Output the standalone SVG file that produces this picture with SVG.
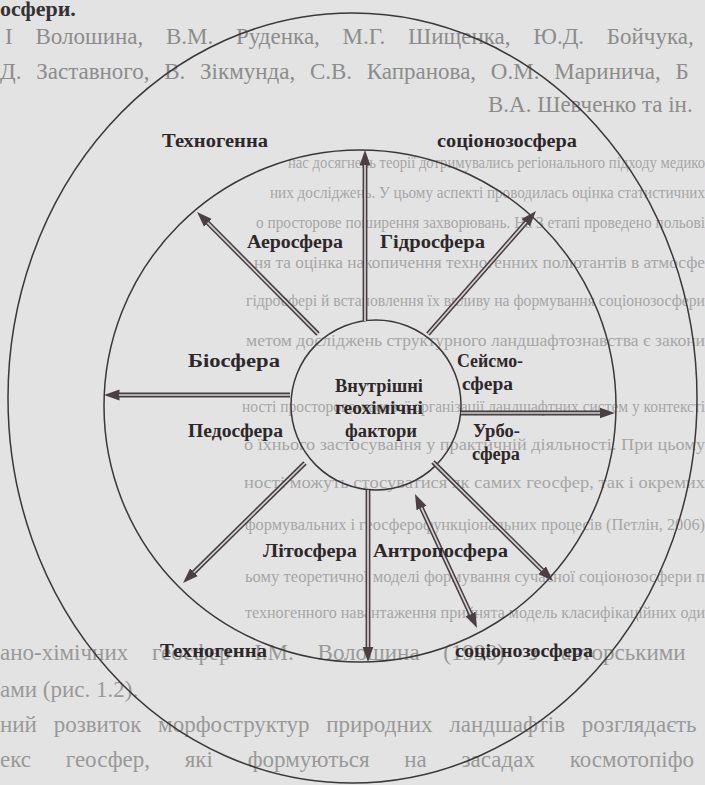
<svg xmlns="http://www.w3.org/2000/svg" width="705" height="785" viewBox="0 0 705 785">
<style>
.bgA{font-family:"Liberation Serif","DejaVu Serif",serif;font-size:23px;fill:#8c8c8c}
.bgB{font-family:"Liberation Serif","DejaVu Serif",serif;font-size:16px;fill:#a6a6a6}
.bgC{font-family:"Liberation Serif","DejaVu Serif",serif;font-size:23px;fill:#999999}
.ring{fill:none;stroke:#3b3637;stroke-width:1.5}
.sh{stroke:#463e41;stroke-width:4.8;fill:none}
.gap{stroke:#d6d2d3;stroke-width:1.7;fill:none}
.lbl{font-family:"Liberation Serif","Times New Roman",serif;font-weight:bold;font-size:18px;fill:#2d2829}
</style>
<defs>
<marker id="ah" markerUnits="userSpaceOnUse" markerWidth="16" markerHeight="12" refX="0.5" refY="5.5" orient="auto-start-reverse" viewBox="0 0 16 11">
<path d="M0,0 L15.5,5.5 L0,11 z" fill="#4a4044"/>
</marker>
</defs>
<rect width="705" height="785" fill="#e3e3e3"/>
<g id="page-text">
<text x="0" y="16" style="font-family:'Liberation Serif',serif;font-size:22px;font-weight:bold;fill:#333">осфери.</text>
<text class="bgA" x="5" y="44" word-spacing="17">І Волошина, В.М. Руденка, М.Г. Шищенка, Ю.Д. Бойчука,</text>
<text class="bgA" x="0" y="79" word-spacing="9">Д. Заставного, В. Зікмунда, С.В. Капранова, О.М. Маринича, Б</text>
<text class="bgA" x="488" y="112">В.А. Шевченко та ін.</text>
<text class="bgB" x="288" y="168" textLength="417" lengthAdjust="spacingAndGlyphs">нас досягнень теорії дотримувались регіонального підходу медико</text>
<text class="bgB" x="270" y="198" textLength="435" lengthAdjust="spacingAndGlyphs">них досліджень. У цьому аспекті проводилась оцінка статистичних</text>
<text class="bgB" x="256" y="228" textLength="449" lengthAdjust="spacingAndGlyphs">о просторове поширення захворювань. На 3 етапі проведено польові</text>
<text class="bgB" x="254" y="268" textLength="451" lengthAdjust="spacingAndGlyphs">ня та оцінка накопичення техногенних полютантів в атмосфе</text>
<text class="bgB" x="246" y="306" textLength="459" lengthAdjust="spacingAndGlyphs">гідросфері й встановлення їх впливу на формування соціонозосфери</text>
<text class="bgB" x="246" y="346" textLength="459" lengthAdjust="spacingAndGlyphs">метом досліджень структурного ландшафтознавства є закони</text>
<text class="bgB" x="242" y="412" textLength="463" lengthAdjust="spacingAndGlyphs">ності просторово-часової організації ландшафтних систем у контексті</text>
<text class="bgB" x="244" y="450" textLength="461" lengthAdjust="spacingAndGlyphs">о їхнього застосування у практичній діяльності. При цьому</text>
<text class="bgB" x="244" y="488" textLength="461" lengthAdjust="spacingAndGlyphs">ності можуть стосуватися як самих геосфер, так і окремих</text>
<text class="bgB" x="245" y="530" textLength="460" lengthAdjust="spacingAndGlyphs">формувальних і геосферофункціональних процесів (Петлін, 2006)</text>
<text class="bgB" x="245" y="582" textLength="460" lengthAdjust="spacingAndGlyphs">ьому теоретичної моделі формування сучасної соціонозосфери п</text>
<text class="bgB" x="245" y="618" textLength="460" lengthAdjust="spacingAndGlyphs">техногенного навантаження прийнята модель класифікаційних оди</text>
<text class="bgC" x="0" y="660" word-spacing="18">ано-хімічних геосфер І.М. Волошина (1998) з авторськими</text>
<text class="bgC" x="0" y="697">ами (рис. 1.2).</text>
<text class="bgC" x="0" y="732" word-spacing="11">ний розвиток морфоструктур природних ландшафтів розглядаєть</text>
<text class="bgC" x="0" y="767" word-spacing="29">екс геосфер, які формуються на засадах космотопіфо</text>
</g>
<g id="outer-ellipse"><ellipse class="ring" cx="352.5" cy="398" rx="344.5" ry="385"/></g>
<g id="middle-circle"><circle class="ring" cx="360" cy="406" r="256"/></g>
<g id="inner-circle"><circle class="ring" cx="376" cy="405" r="85"/></g>
<g id="connectors">
<line class="sh" x1="365" y1="321" x2="365" y2="165" marker-end="url(#ah)"/>
<line class="gap" x1="365" y1="321" x2="365" y2="165"/>
<line class="sh" x1="318" y1="334" x2="207.6" y2="222.6" marker-end="url(#ah)"/>
<line class="gap" x1="318" y1="334" x2="207.6" y2="222.6"/>
<line class="sh" x1="428" y1="334" x2="526.1" y2="222.3" marker-end="url(#ah)"/>
<line class="gap" x1="428" y1="334" x2="526.1" y2="222.3"/>
<line class="sh" x1="290" y1="395" x2="119" y2="395" marker-end="url(#ah)"/>
<line class="gap" x1="290" y1="395" x2="119" y2="395"/>
<line class="sh" x1="461" y1="413" x2="600" y2="413" marker-end="url(#ah)"/>
<line class="gap" x1="461" y1="413" x2="600" y2="413"/>
<line class="sh" x1="305" y1="463" x2="193.7" y2="572.5" marker-end="url(#ah)"/>
<line class="gap" x1="305" y1="463" x2="193.7" y2="572.5"/>
<line class="sh" x1="368" y1="490" x2="368" y2="647" marker-end="url(#ah)"/>
<line class="gap" x1="368" y1="490" x2="368" y2="647"/>
<line class="sh" x1="433" y1="462" x2="542.4" y2="570.4" marker-end="url(#ah)"/>
<line class="gap" x1="433" y1="462" x2="542.4" y2="570.4"/>
<line class="sh" x1="421.3" y1="507.6" x2="470.7" y2="614.4" marker-start="url(#ah)" marker-end="url(#ah)"/>
<line class="gap" x1="421.3" y1="507.6" x2="470.7" y2="614.4"/>
</g>
<g id="labels">
<g id="n-tech-top"><text class="lbl" x="162" y="147" textLength="106" lengthAdjust="spacingAndGlyphs">Техногенна</text></g>
<g id="n-socio-top"><text class="lbl" x="437" y="147" textLength="140" lengthAdjust="spacingAndGlyphs">соціонозосфера</text></g>
<g id="n-aero"><text class="lbl" x="247" y="248" textLength="96" lengthAdjust="spacingAndGlyphs">Аеросфера</text></g>
<g id="n-hydro"><text class="lbl" x="380" y="248" textLength="105" lengthAdjust="spacingAndGlyphs">Гідросфера</text></g>
<g id="n-bio"><text class="lbl" x="188" y="367" textLength="92" lengthAdjust="spacingAndGlyphs">Біосфера</text></g>
<g id="n-seismo"><text class="lbl" x="457" y="367" textLength="66" lengthAdjust="spacingAndGlyphs">Сейсмо-</text><text class="lbl" x="462" y="390" textLength="51" lengthAdjust="spacingAndGlyphs">сфера</text></g>
<g id="n-center"><text class="lbl" x="335" y="392" textLength="88" lengthAdjust="spacingAndGlyphs">Внутрішні</text><text class="lbl" x="335" y="414" textLength="88" lengthAdjust="spacingAndGlyphs">геохімічні</text><text class="lbl" x="345" y="437" textLength="72" lengthAdjust="spacingAndGlyphs">фактори</text></g>
<g id="n-pedo"><text class="lbl" x="188" y="437" textLength="95" lengthAdjust="spacingAndGlyphs">Педосфера</text></g>
<g id="n-urbo"><text class="lbl" x="473" y="437" textLength="47" lengthAdjust="spacingAndGlyphs">Урбо-</text><text class="lbl" x="472" y="460" textLength="48" lengthAdjust="spacingAndGlyphs">сфера</text></g>
<g id="n-lito"><text class="lbl" x="263" y="557" textLength="94" lengthAdjust="spacingAndGlyphs">Літосфера</text></g>
<g id="n-antropo"><text class="lbl" x="373" y="557" textLength="135" lengthAdjust="spacingAndGlyphs">Антропосфера</text></g>
<g id="n-tech-bot"><text class="lbl" x="160" y="657" textLength="107" lengthAdjust="spacingAndGlyphs">Техногенна</text></g>
<g id="n-socio-bot"><text class="lbl" x="455" y="657" textLength="138" lengthAdjust="spacingAndGlyphs">соціонозосфера</text></g>
</g>
</svg>
